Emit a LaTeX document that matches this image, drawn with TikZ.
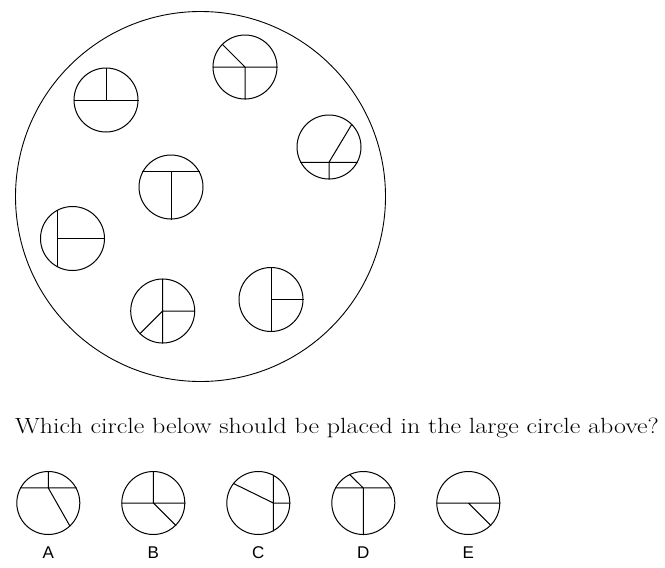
\documentclass[tikz,border=0pt]{standalone}
\usepackage{fontspec}
\newfontfamily\labelfont{Liberation Sans}
\newfontfamily\questionfont{Latin Modern Roman}[FakeStretch=1.178]
\usetikzlibrary{positioning, calc}
\tikzset{
	bignode/.style={
			shape=circle,
			draw=black,
			line width=0.9pt,
			minimum size=370pt,
			inner sep=0pt
		},
	piecenode/.style={
			shape=circle,
			draw=black,
			line width=1pt,
			minimum size=64pt,
			inner sep=0pt
		},
	optionnode/.style={
			piecenode,
			minimum size=63pt
		},
	piecelines/.style={
			line width=1pt
		}
}
\tikzset{
	optlabel/.style={font=\fontsize{17}{20}\selectfont\labelfont, inner sep=0pt}
}

\begin{document}
\begin{tikzpicture}[x=1pt, y=-1pt]
				\useasboundingbox (0,0) rectangle (665,568);

				\node[bignode] (big) at (200.5,196.5) {};

				\node[piecenode] (c1) at (106,100) {};
				\node[piecenode] (c2) at (245,67) {};
				\node[piecenode] (c3) at (329,147) {};
				\node[piecenode] (c4) at (171,187) {};
				\node[piecenode] (c5) at (72.5,238.5) {};
				\node[piecenode] (c6) at (162.7,311) {};
				\node[piecenode] (c7) at (271,299.5) {};

				% lines inside the circles
				\draw[piecelines] (c1.west) -- (c1.east) (c1.center) -- (c1.north);
				\draw[piecelines] (c2.west) -- (c2.east) (c2.center) -- (c2.south) (c2.center) -- (c2.135);
				\coordinate (m3) at ($(c3.208)!0.5!(c3.332)$);
				\draw[piecelines] (c3.208) -- (c3.332) (m3) -- (c3.south) (m3) -- (c3.45);
				\coordinate (m4) at ($(c4.152)!0.5!(c4.28)$);
				\draw[piecelines] (c4.152) -- (c4.28) (m4) -- (c4.south);
				\coordinate (m5) at ($(c5.118)!0.5!(c5.242)$);
				\draw[piecelines] (c5.118) -- (c5.242) (m5) -- (c5.east);
				\draw[piecelines] (c6.north) -- (c6.south) (c6.center) -- (c6.east) (c6.center) -- (c6.225);
				\draw[piecelines] (c7.north) -- (c7.south) (c7.center) -- (c7.east);

				\node[anchor=base west, inner sep=0pt, font=\fontsize{22}{26}\selectfont\questionfont] (question) at (15,433.3)
					{Which circle below should be placed in the large circle above?};

				\node[optionnode] (oA) at (48.3,503) {};
				\node[optionnode] (oB) at (153.3,503) {};
				\node[optionnode] (oC) at (258.3,503) {};
				\node[optionnode] (oD) at (363.3,503) {};
				\node[optionnode] (oE) at (468.3,503) {};

				\node[optlabel, below=11.5pt of oA] {A};
				\node[optlabel, below=11.5pt of oB] {B};
				\node[optlabel, below=11.5pt of oC] {C};
				\node[optlabel, below=11.5pt of oD] {D};
				\node[optlabel, below=11.5pt of oE] {E};

				\coordinate (mA) at ($(oA.152)!0.5!(oA.28)$);
				\draw[piecelines] (oA.152) -- (oA.28) (mA) -- (oA.north) (mA) -- (oA.-47);
				\draw[piecelines] (oB.west) -- (oB.east) (oB.center) -- (oB.north) (oB.center) -- (oB.-45);
				\coordinate (mC) at ($(oC.62)!0.5!(oC.-62)$);
				\draw[piecelines] (oC.62) -- (oC.-62) (mC) -- (oC.east) (mC) -- (oC.142);
				\coordinate (mD) at ($(oD.152)!0.5!(oD.28)$);
				\draw[piecelines] (oD.152) -- (oD.28) (mD) -- (oD.south) (mD) -- (oD.116);
				\draw[piecelines] (oE.west) -- (oE.east) (oE.center) -- (oE.-45);

			\end{tikzpicture}
\end{document}
